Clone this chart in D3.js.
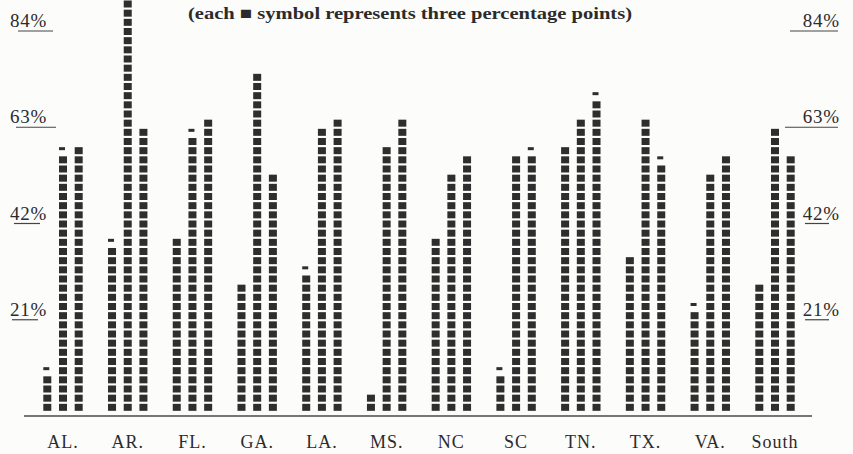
<!DOCTYPE html>
<html>
<head>
<meta charset="utf-8">
<script src="https://cdn.jsdelivr.net/npm/d3@7"></script>
<style>
	body { margin: 0; background: #fcfcfb; }
	svg { display: block; }
	text { font-family: "Liberation Serif", "DejaVu Serif", serif; fill: #2b2b2b; }
</style>
</head>
<body>
<svg width="853" height="454"></svg>
<script>
// one entry per state, three columns each (value in percent)
var states = ["AL.", "AR.", "FL.", "GA.", "LA.", "MS.", "NC", "SC", "TN.", "TX.", "VA.", "South"];
var col1 = [9, 37, 38, 28, 31, 4, 38, 9, 58, 34, 23, 28];
var col2 = [57, 90, 61, 74, 62, 58, 52, 56, 64, 64, 52, 62];
var col3 = [58, 62, 64, 52, 64, 64, 56, 57, 69, 55, 56, 56];
var tickValues = [21, 42, 63, 84];
var caption = "(each \u25A0 symbol represents three percentage points)";

var svg = d3.select("svg");

var x = d3.scalePoint()
    .domain(states)
    .range([63, 775]);

var sub = d3.scalePoint()
    .domain([0, 1, 2])
    .range([-15.7, 15.7]);

var y = d3.scaleLinear()
    .domain([0, 84])
    .range([416, 31]);

var unit = 2; // each printed square

// build the cells of every column
var cells = [];
states.forEach(function(s, i) {
	[col1[i], col2[i], col3[i]].forEach(function(v, j) {
		var full = Math.floor(v / unit);
		for (var k = 0; k < full; k++) {
			cells.push({state: s, col: j, k: k, dash: false});
		}
		if (v - full * unit > 0) {
			cells.push({state: s, col: j, k: full, dash: true});
		}
	});
});

svg.append("g")
    .selectAll("rect")
    .data(cells)
  .enter().append("rect")
    .attr("x", function(d) { return x(d.state) + sub(d.col) - 4; })
    .attr("y", function(d) { return y(unit * (d.k + 1)) - 3; })
    .attr("width", function(d) { return d.dash ? 6 : 8; })
    .attr("height", function(d) { return d.dash ? 3 : 7; })
    .attr("fill", "#2e2e2e");

// baseline
svg.append("line")
    .attr("x1", 24)
    .attr("x2", 812)
    .attr("y1", y(0))
    .attr("y2", y(0))
    .attr("stroke", "#4a4a4a")
    .attr("stroke-width", 1.5);

// state labels
svg.append("g")
    .selectAll("text")
    .data(states)
  .enter().append("text")
    .attr("x", function(d) { return x(d); })
    .attr("y", 448)
    .attr("text-anchor", "middle")
    .attr("font-size", 18)
    .attr("letter-spacing", 1)
    .text(function(d) { return d; });

// percent labels, both sides, underlined
var leftLine = {21: [12, 38], 42: [14, 40], 63: [16, 56], 84: [18, 53]};
var rightLine = {21: [805, 829], 42: [805, 829], 63: [785, 838], 84: [790, 838]};

var tl = svg.append("g").selectAll("g")
    .data(tickValues)
  .enter().append("g");

tl.append("text")
    .attr("x", 10)
    .attr("y", function(d) { return y(d) - 4; })
    .attr("font-size", 19)
    .attr("letter-spacing", 0.8)
    .text(function(d) { return d + "%"; });

tl.append("line")
    .attr("x1", function(d) { return leftLine[d][0]; })
    .attr("x2", function(d) { return leftLine[d][1]; })
    .attr("y1", function(d) { return y(d); })
    .attr("y2", function(d) { return y(d); })
    .attr("stroke", "#444")
    .attr("stroke-width", 1.2);

tl.append("text")
    .attr("x", 840)
    .attr("y", function(d) { return y(d) - 4; })
    .attr("text-anchor", "end")
    .attr("font-size", 19)
    .attr("letter-spacing", 0.8)
    .text(function(d) { return d + "%"; });

tl.append("line")
    .attr("x1", function(d) { return rightLine[d][0]; })
    .attr("x2", function(d) { return rightLine[d][1]; })
    .attr("y1", function(d) { return y(d); })
    .attr("y2", function(d) { return y(d); })
    .attr("stroke", "#444")
    .attr("stroke-width", 1.2);

// caption
svg.append("text")
    .attr("x", 188)
    .attr("y", 19)
    .attr("font-size", 17)
    .attr("font-weight", "bold")
    .attr("textLength", 444)
    .attr("lengthAdjust", "spacingAndGlyphs")
    .text(caption);
</script>
</body>
</html>
